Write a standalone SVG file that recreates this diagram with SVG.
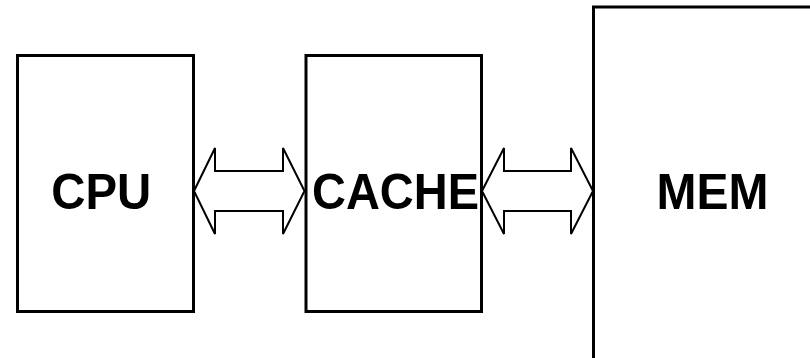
<svg xmlns="http://www.w3.org/2000/svg" width="810" height="358" viewBox="0 0 810 358">
<style>
.box{fill:#fff;stroke:#000;stroke-width:3}
.lbl{font-family:"Liberation Sans",Arial,sans-serif;font-weight:bold;font-size:50px;fill:#000}
.arr{fill:#fff;stroke:#000;stroke-width:2;stroke-linejoin:miter}
</style>
<rect width="810" height="358" fill="#fff"/>
<g id="cpu">
<rect class="box" x="17.5" y="55.5" width="176" height="256"/>
<text class="lbl" x="51.3" y="209" textLength="100" lengthAdjust="spacingAndGlyphs">CPU</text>
</g>
<g id="cache">
<rect class="box" x="306" y="55.5" width="175.5" height="256"/>
<text class="lbl" x="312" y="209" textLength="167" lengthAdjust="spacingAndGlyphs">CACHE</text>
</g>
<g id="mem">
<rect class="box" x="593.5" y="7" width="230" height="360"/>
<text class="lbl" x="656.5" y="209" textLength="112" lengthAdjust="spacingAndGlyphs">MEM</text>
</g>
<g id="connectors">
<polygon class="arr" points="194,191 215,148 215,171 283,171 283,148 304.5,191 283,234 283,211 215,211 215,234"/>
<polygon class="arr" points="482,191 504,148 504,171 571,171 571,148 593,191 571,234 571,211 504,211 504,234"/>
</g>
</svg>
